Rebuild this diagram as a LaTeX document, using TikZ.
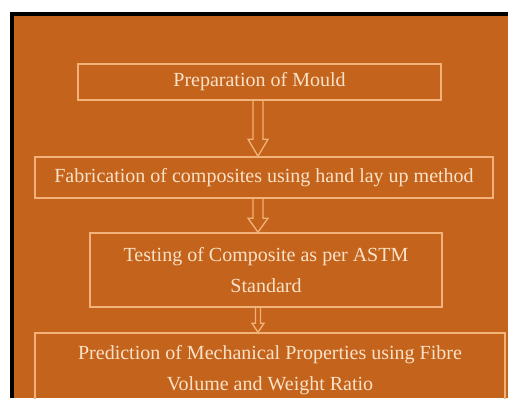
\documentclass[tikz,border=0pt]{standalone}
\usepackage{fontspec}
\setmainfont{Liberation Serif}
\usetikzlibrary{calc}
\definecolor{panel}{RGB}{196,99,27}
\definecolor{edge}{RGB}{242,178,122}
\definecolor{ink}{RGB}{250,226,200}
% hollow block arrow from the bottom of #1 to the top of #2
% #3 half shaft width, #4 half head width, #5 head length
\newcommand\blockarrow[5]{%
  \draw[hollow] ($(#1.south -| axis)+(-#3,0)$) -- ($(#2.north -| axis)+(-#3,-#5)$)
    -- ($(#2.north -| axis)+(-#4,-#5)$) -- (#2.north -| axis)
    -- ($(#2.north -| axis)+(#4,-#5)$) -- ($(#2.north -| axis)+(#3,-#5)$)
    -- ($(#1.south -| axis)+(#3,0)$);}
\begin{document}
\begin{tikzpicture}[x=1bp,y=-1bp,
  stage/.style={draw=edge, line width=1.6bp, text=ink, align=center,
    inner sep=0pt, font=\fontsize{20bp}{31bp}\selectfont},
  hollow/.style={draw=edge, line width=1.3bp, line join=miter}]
\useasboundingbox (0,0) rectangle (509,398);
\clip (0,0) rectangle (509,398);
% page frame
\fill[white] (0,0) rectangle (509,398);
\fill[black] (10,12) rectangle (508,398);
\fill[panel] (14,16) rectangle (508,398);
\coordinate (axis) at (258,0);
% process steps
\node[stage, minimum width=363bp, minimum height=36bp] (m1) at (259.5,82)
  {Preparation of Mould};
\node[stage, minimum width=458bp, minimum height=41bp] (m2) at (264,177.5)
  {Fabrication of composites using hand lay up method};
\node[stage, minimum width=352bp, minimum height=74bp] (m3) at (266,270)
  {Testing of Composite as per ASTM\\Standard};
\node[stage, minimum width=470bp, minimum height=74bp] (m4) at (270,370)
  {Prediction of Mechanical Properties using Fibre\\Volume and Weight Ratio};
% connectors
\blockarrow{m1}{m2}{5}{10}{17}
\blockarrow{m2}{m3}{5}{10}{14}
\begin{scope}[shift={(-3,0)}]
\blockarrow{m3}{m4}{2.5}{6}{9}
\end{scope}
\end{tikzpicture}
\end{document}
